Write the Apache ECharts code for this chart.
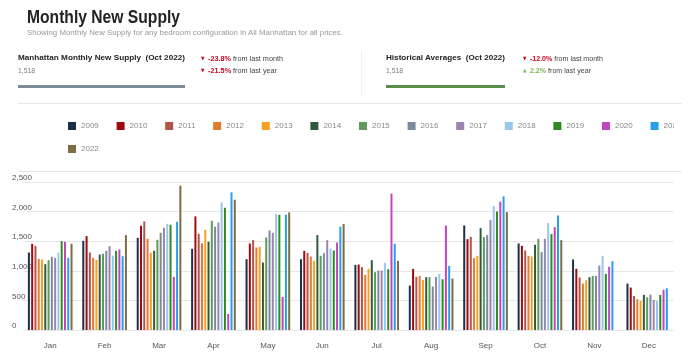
<!DOCTYPE html>
<html><head><meta charset="utf-8">
<script src="https://cdn.jsdelivr.net/npm/echarts@6/dist/echarts.min.js"></script>
<style>
html,body{margin:0;padding:0;background:#fff;width:700px;height:362px;overflow:hidden;font-family:"Liberation Sans",Arial,Helvetica,sans-serif;}
.t{position:absolute;white-space:nowrap;transform-origin:0 50%;}
#clip{position:absolute;left:0;top:0;width:674px;height:362px;overflow:hidden;}
#chart{position:absolute;left:0;top:0;width:700px;height:362px;}
.rule{position:absolute;background:#e6e6e6;}
.red{color:#d0021b;font-weight:bold;}
.grn{color:#7ab648;font-weight:bold;}
.tri{font-family:"DejaVu Sans",sans-serif;font-size:5px;vertical-align:1px;margin-right:4px;}
</style></head><body>
<div id="clip"><div id="chart"></div></div>

<div class="t" data-w="153" style="left:27px;top:7px;font-size:19px;line-height:19px;font-weight:bold;color:#222;">Monthly New Supply</div>
<div class="t" data-w="316" style="left:27px;top:29px;font-size:8px;line-height:8px;color:#999;">Showing Monthly New Supply for any bedroom configuration in All Manhattan for all prices.</div>

<div class="t" data-w="167" style="left:18px;top:54px;font-size:8px;line-height:8px;font-weight:bold;color:#222;">Manhattan Monthly New Supply&nbsp; (Oct 2022)</div>
<div class="t" data-w="17" style="left:18px;top:67px;font-size:8px;line-height:8px;color:#777;">1,518</div>
<div class="t" data-w="82" style="left:201px;top:54px;font-size:8px;line-height:8px;color:#444;"><span class="tri red">▼</span><span class="red">-23.8%</span> from last month</div>
<div class="t" data-w="76" style="left:201px;top:66px;font-size:8px;line-height:8px;color:#444;"><span class="tri red">▼</span><span class="red">-21.5%</span> from last year</div>
<div style="position:absolute;left:18px;top:85px;width:167px;height:3px;background:#7d8a98;"></div>

<div class="rule" style="left:361px;top:50px;width:1px;height:46px;background:#f0f0f0;"></div>

<div class="t" data-w="119" style="left:386px;top:54px;font-size:8px;line-height:8px;font-weight:bold;color:#222;">Historical Averages&nbsp; (Oct 2022)</div>
<div class="t" data-w="17" style="left:386px;top:67px;font-size:8px;line-height:8px;color:#777;">1,518</div>
<div class="t" data-w="80" style="left:523px;top:54px;font-size:8px;line-height:8px;color:#444;"><span class="tri red">▼</span><span class="red">-12.0%</span> from last month</div>
<div class="t" data-w="68" style="left:523px;top:66px;font-size:8px;line-height:8px;color:#444;"><span class="tri grn">▲</span><span class="grn">2.2%</span> from last year</div>
<div style="position:absolute;left:386px;top:85px;width:119px;height:3px;background:#5b8e4b;"></div>

<div class="rule" style="left:18px;top:103px;width:664px;height:1px;"></div>
<div class="rule" style="left:18px;top:171px;width:664px;height:1px;"></div>

<script>
const months = ['Jan','Feb','Mar','Apr','May','Jun','Jul','Aug','Sep','Oct','Nov','Dec'];
const years = ['2009','2010','2011','2012','2013','2014','2015','2016','2017','2018','2019','2020','2021','2022'];
const yearColors = ['#1c2e48','#9e0b0f','#b4534a','#e27a30','#f5a11f','#2f5b3b','#5e9a5e','#7b8b9d','#9c84b2','#98c8e8','#2f8a22','#c046bf','#27a0ec','#7d6c44'];
const yTicks = [0,500,1000,1500,2000,2500];

const y2009 = [1309,1507,1557,1371,1196,1196,1100,750,1766,1462,1191,784];
const y2010 = [1456,1586,1761,1919,1462,1337,1106,1033,1535,1422,1033,717];
const y2011 = [1422,1309,1834,1625,1518,1304,1061,897,1574,1343,886,576];
const y2012 = [1202,1219,1541,1467,1394,1241,931,914,1213,1253,784,519];
const y2013 = [1191,1185,1304,1693,1405,1168,1033,846,1253,1241,841,491];
const y2014 = [1112,1275,1337,1490,1140,1603,1179,892,1721,1439,892,593];
const y2015 = [1179,1287,1524,1845,1563,1253,976,892,1569,1541,914,553];
const y2016 = [1236,1337,1642,1744,1682,1298,1004,734,1603,1315,914,598];
const y2017 = [1219,1416,1727,1817,1642,1518,1004,897,1857,1541,1089,508];
const y2018 = [1309,1258,1794,2156,1958,1377,1134,948,2094,1806,1253,491];
const y2019 = [1501,1337,1778,2065,1947,1343,1027,858,2003,1620,948,593];
const y2020 = [1490,1360,897,271,559,1478,2302,1766,2167,1738,1067,677];
const y2021 = [1219,1247,1828,2325,1947,1744,1456,1083,2257,1934,1162,705];
const y2022 = [1456,1603,2438,2201,1986,1789,1168,869,1992,1518,null,null];
const seriesValues = [y2009,y2010,y2011,y2012,y2013,y2014,y2015,y2016,y2017,y2018,y2019,y2020,y2021,y2022];

// fit header text widths
document.querySelectorAll('[data-w]').forEach(function(el){
  const w = el.getBoundingClientRect().width;
  el.style.transform = 'scaleX(' + (+el.dataset.w / w) + ')';
});

const FONT = '"Liberation Sans", Arial, sans-serif';
const chart = echarts.init(document.getElementById('chart'), null, {renderer:'canvas'});
const legendCommon = {
  left: 68, orient: 'horizontal', padding: 0, icon: 'rect',
  itemWidth: 8, itemHeight: 8, itemGap: 17.8,
  textStyle: {fontSize: 8, color: '#888', fontFamily: FONT},
  selectedMode: false
};
chart.setOption({
  animation: false,
  color: yearColors,
  legend: [
    Object.assign({}, legendCommon, {top: 122, data: years.slice(0,13)}),
    Object.assign({}, legendCommon, {top: 145, data: years.slice(13)})
  ],
  grid: {left: 23, right: 24, top: 182, bottom: 32, containLabel: false},
  xAxis: {
    type: 'category', data: months,
    axisLine: {show: false}, axisTick: {show: false},
    axisLabel: {fontSize: 8, color: '#555', margin: 12, fontFamily: FONT}
  },
  yAxis: {
    type: 'value', min: yTicks[0], max: yTicks[yTicks.length-1], interval: 500,
    axisLine: {show: false}, axisTick: {show: false},
    splitLine: {lineStyle: {color: '#e6e6e6', width: 1}},
    axisLabel: {fontSize: 8, color: '#555', align: 'left', verticalAlign: 'bottom', margin: 11, fontFamily: FONT,
      formatter: function(v){ return v.toLocaleString('en-US'); }}
  },
  series: years.map(function(y, i){
    return {
      name: y, type: 'bar', data: seriesValues[i],
      barWidth: 2, barGap: '64%',
      itemStyle: {color: yearColors[i]}
    };
  })
});
</script>
</body></html>
